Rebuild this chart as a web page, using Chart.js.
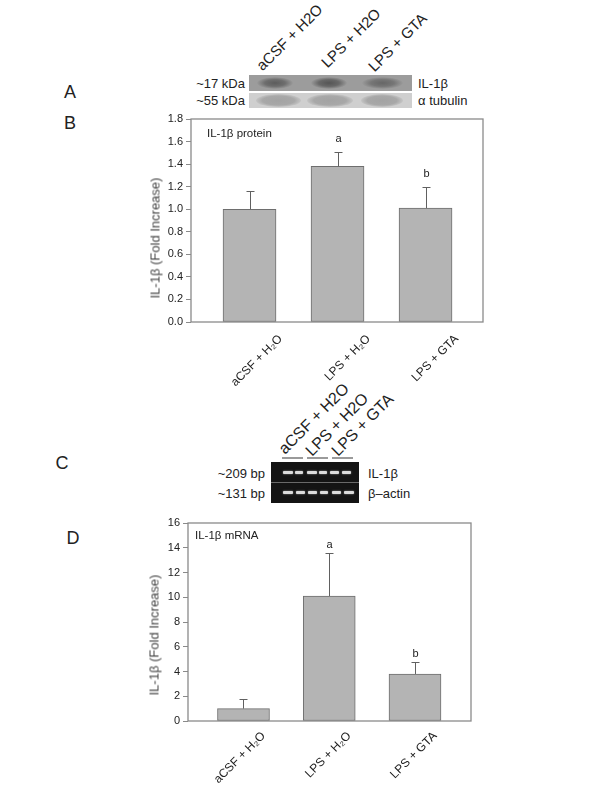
<!DOCTYPE html>
<html>
<head>
  <title>IL-1β protein and mRNA</title>
  <meta charset="utf-8">
  <script src="https://cdn.jsdelivr.net/npm/chart.js"></script>
  <style>
    body { margin: 0; width: 600px; height: 800px; position: relative; overflow: hidden; background: #fff;
           font-family: Arial, "Liberation Sans", sans-serif; color: #222; }
    .t { position: absolute; white-space: nowrap; line-height: 1; }
    .mid { transform: translateY(-50%); }
    .panel { font-size: 18px; transform: translate(-50%, -50%); }
    .rot { transform-origin: 0 100%; transform: rotate(-45deg); }
    .ytitle { font-size: 13px; font-weight: normal; color: #444; transform: translate(-50%, -50%) rotate(-90deg); }
    .box { position: absolute; }
    .band { position: absolute; border-radius: 50%; }
    .chartWrap { position: absolute; left: 0; width: 600px; height: 300px; }
  </style>
</head>
<body>

<!-- panel letters -->
<div class="t panel" style="left:70px; top:92px">A</div>
<div class="t panel" style="left:70px; top:123px">B</div>
<div class="t panel" style="left:62px; top:463px">C</div>
<div class="t panel" style="left:73px; top:538px">D</div>

<!-- western blot (A) -->
<div class="t rot" style="left:264px; top:58px; font-size:15px">aCSF + H2O</div>
<div class="t rot" style="left:329px; top:55px; font-size:15px">LPS + H2O</div>
<div class="t rot" style="left:376px; top:59px; font-size:15px">LPS + GTA</div>
<div class="box" style="left:249px; top:75px; width:163px; height:16px; background:#9c9c9c">
  <div class="band" style="left:8px; top:2px; width:36px; height:12px; background:radial-gradient(ellipse at center,#5c5c5c 0%,#6e6e6e 40%,rgba(156,156,156,0) 72%)"></div>
  <div class="band" style="left:62px; top:2px; width:36px; height:12px; background:radial-gradient(ellipse at center,#555 0%,#686868 40%,rgba(156,156,156,0) 72%)"></div>
  <div class="band" style="left:113px; top:2px; width:41px; height:12px; background:radial-gradient(ellipse at center,#666 0%,#767676 40%,rgba(156,156,156,0) 72%)"></div>
</div>
<div class="box" style="left:249px; top:93px; width:163px; height:15px; background:#cfcfcf">
  <div class="band" style="left:7px; top:1px; width:45px; height:13px; background:radial-gradient(ellipse at center,#a3a3a3 0%,#a8a8a8 50%,rgba(207,207,207,0) 78%)"></div>
  <div class="band" style="left:58px; top:1px; width:46px; height:13px; background:radial-gradient(ellipse at center,#a3a3a3 0%,#a8a8a8 50%,rgba(207,207,207,0) 78%)"></div>
  <div class="band" style="left:112px; top:1px; width:42px; height:13px; background:radial-gradient(ellipse at center,#a3a3a3 0%,#a8a8a8 50%,rgba(207,207,207,0) 78%)"></div>
</div>
<div class="t mid" style="right:355px; top:83px; font-size:13px">~17 kDa</div>
<div class="t mid" style="right:355px; top:100px; font-size:13px">~55 kDa</div>
<div class="t mid" style="left:418px; top:83px; font-size:13px">IL-1β</div>
<div class="t mid" style="left:418px; top:100px; font-size:13px">α tubulin</div>

<!-- RT-PCR gel (C) -->
<div class="t rot" style="left:287px; top:441px; font-size:16px">aCSF + H2O</div>
<div class="t rot" style="left:314px; top:443px; font-size:16px">LPS + H2O</div>
<div class="t rot" style="left:340px; top:443px; font-size:16px">LPS + GTA</div>
<div class="box" style="left:282px; top:457px; width:21px; height:2px; background:#9a9a9a"></div>
<div class="box" style="left:307px; top:457px; width:21px; height:2px; background:#9a9a9a"></div>
<div class="box" style="left:332px; top:457px; width:21px; height:2px; background:#9a9a9a"></div>
<div class="box" id="gel" style="left:271px; top:462px; width:88px; height:41px; background:#141414">
  <div class="box" style="left:0; top:20px; width:88px; height:1px; background:#6a6a6a"></div>
</div>
<div class="t mid" style="right:335px; top:473px; font-size:13px">~209 bp</div>
<div class="t mid" style="right:335px; top:493px; font-size:13px">~131 bp</div>
<div class="t mid" style="left:368px; top:473px; font-size:13px">IL-1β</div>
<div class="t mid" style="left:368px; top:493px; font-size:13px">β–actin</div>

<!-- B: protein chart -->
<div class="chartWrap" style="top:100px"><canvas id="proteinChart"></canvas></div>
<div class="t ytitle" style="left:155px; top:238px">IL-1β (Fold Increase)</div>
<div class="t mid" style="left:207px; top:134px; font-size:11.5px">IL-1β protein</div>

<!-- D: mRNA chart -->
<div class="chartWrap" style="top:500px"><canvas id="mrnaChart"></canvas></div>
<div class="t ytitle" style="left:154px; top:635px">IL-1β (Fold Increase)</div>
<div class="t mid" style="left:195px; top:536px; font-size:11.5px">IL-1β mRNA</div>

<script>
const groups = ['aCSF + H₂O', 'LPS + H₂O', 'LPS + GTA'];
const groupPos = [1, 2, 3];

const proteinMean = [1.00, 1.38, 1.01];
const proteinSem = [0.16, 0.13, 0.19];
const proteinSig = ['', 'a', 'b'];

const mrnaMean = [1.0, 10.1, 3.8];
const mrnaSem = [0.8, 3.5, 0.95];
const mrnaSig = ['', 'a', 'b'];

// gel bands (lane x offsets inside the gel box)
const gelTop = [[12, 10], [24, 8], [36, 10], [48, 8], [59, 9], [71, 9]];
const gelBottom = [[12, 10], [25, 9], [37, 9], [49, 8], [61, 9], [73, 10]];
const gel = document.getElementById('gel');
function addBands(list, top) {
  for (let b of list) {
    const d = document.createElement('div');
    d.className = 'box';
    d.style.cssText = `left:${b[0]}px; top:${top}px; width:${b[1]}px; height:3px; background:#dcdcdc; border-radius:1px; box-shadow:0 0 2px #999;`;
    gel.appendChild(d);
  }
}
addBands(gelTop, 9);
addBands(gelBottom, 29);

const frame = {
  id: 'frame',
  beforeDatasetsDraw(chart) {
    const { ctx, chartArea: a } = chart;
    ctx.save();
    ctx.strokeStyle = '#8a8a8a';
    ctx.lineWidth = 1.3;
    ctx.strokeRect(a.left, a.top, a.right - a.left, a.bottom - a.top);
    ctx.restore();
  }
};

const errorBars = {
  id: 'errorBars',
  afterDatasetsDraw(chart, args, opts) {
    const { ctx, scales: { x, y } } = chart;
    ctx.save();
    ctx.strokeStyle = '#606060';
    ctx.lineWidth = 1;
    ctx.fillStyle = '#222';
    ctx.font = '11px Arial, "Liberation Sans", sans-serif';
    ctx.textAlign = 'center';
    ctx.textBaseline = 'middle';
    opts.mean.forEach((m, i) => {
      const px = Math.round(x.getPixelForValue(groupPos[i])) + 0.5;
      const y0 = y.getPixelForValue(m);
      const y1 = Math.round(y.getPixelForValue(m + opts.sem[i])) + 0.5;
      ctx.beginPath();
      ctx.moveTo(px, y0);
      ctx.lineTo(px, y1);
      ctx.moveTo(px - 4, y1);
      ctx.lineTo(px + 4, y1);
      ctx.stroke();
      if (opts.sig[i]) ctx.fillText(opts.sig[i], px, y1 - opts.gap);
    });
    ctx.restore();
  }
};

function makeChart(id, mean, sem, sig, o) {
  return new Chart(document.getElementById(id), {
    type: 'bar',
    data: {
      datasets: [{
        data: groupPos.map((p, i) => ({ x: p, y: mean[i] })),
        backgroundColor: '#b4b4b4',
        borderColor: '#6e6e6e',
        borderWidth: 1,
        borderSkipped: false,
        barThickness: o.barWidth
      }]
    },
    options: {
      responsive: true,
      maintainAspectRatio: false,
      animation: false,
      layout: { padding: o.padding },
      plugins: {
        legend: { display: false },
        tooltip: { enabled: false },
        errorBars: { mean, sem, sig, gap: o.letterGap }
      },
      scales: {
        x: {
          type: 'linear',
          offset: false,
          min: o.xMin,
          max: o.xMax,
          bounds: 'data',
          grid: { display: false, offset: false },
          border: { display: false },
          afterBuildTicks: axis => { axis.ticks = groupPos.map(v => ({ value: v })); },
          afterFit: s => { s.height = o.xHeight; },
          ticks: {
            autoSkip: false,
            minRotation: 45,
            maxRotation: 45,
            labelOffset: o.labelOffset,
            padding: o.labelPad,
            color: '#222',
            font: { family: 'Arial, "Liberation Sans", sans-serif', size: 12 },
            callback: v => groups[groupPos.indexOf(v)]
          }
        },
        y: {
          min: 0,
          max: o.yMax,
          grid: { drawOnChartArea: false, drawTicks: true, tickLength: 5, color: '#8a8a8a' },
          border: { display: false },
          afterFit: s => { s.width = o.yWidth; },
          ticks: {
            stepSize: o.step,
            padding: 3,
            color: '#222',
            font: { family: 'Arial, "Liberation Sans", sans-serif', size: 11 },
            callback: v => v.toFixed(o.decimals)
          }
        }
      }
    },
    plugins: [frame, errorBars]
  });
}

makeChart('proteinChart', proteinMean, proteinSem, proteinSig, {
  padding: { left: 140, right: 117, top: 19, bottom: 0 },
  yWidth: 51, xHeight: 78, xMin: 0.335, xMax: 3.653,
  yMax: 1.8, step: 0.2, decimals: 1, barWidth: 53,
  labelOffset: 31, labelPad: 2, letterGap: 14
});

makeChart('mrnaChart', mrnaMean, mrnaSem, mrnaSig, {
  padding: { left: 140, right: 129, top: 23, bottom: 0 },
  yWidth: 48, xHeight: 79, xMin: 0.353, xMax: 3.653,
  yMax: 16, step: 2, decimals: 0, barWidth: 52,
  labelOffset: 20, labelPad: 0, letterGap: 9
});
</script>
</body>
</html>
